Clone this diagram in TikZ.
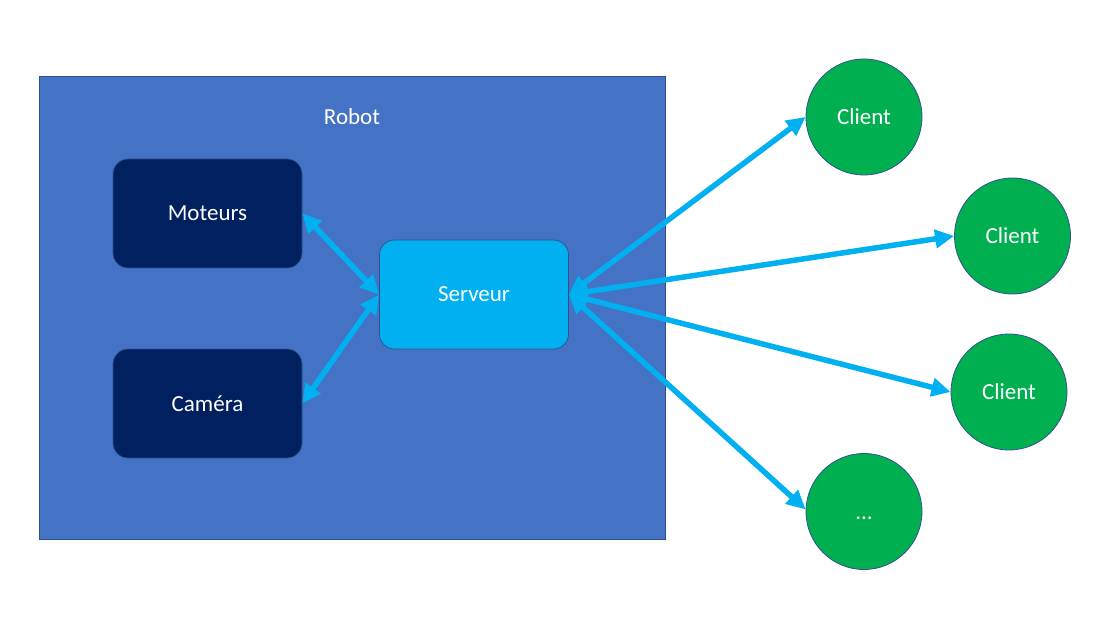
\documentclass[tikz,border=0pt]{standalone}
\usepackage{fontspec}
\setmainfont{Carlito}
\usetikzlibrary{arrows.meta}
\definecolor{robotblue}{HTML}{4472C4}
\definecolor{robotedge}{HTML}{2F528F}
\definecolor{navy}{HTML}{002060}
\definecolor{sky}{HTML}{00B0F0}
\definecolor{cgreen}{HTML}{00B050}
\tikzset{
  txt/.style={text=white, font=\fontsize{23}{26}\selectfont},
  module/.style={txt, draw=robotedge, line width=0.7pt, rounded corners=15pt, minimum width=189pt, minimum height=109pt, inner sep=0pt},
  client/.style={txt, circle, fill=cgreen, draw=robotedge, line width=0.8pt, minimum size=116pt, inner sep=0pt},
  link/.style={draw=sky, line width=5.5pt, {Triangle[length=19pt,width=18pt]}-{Triangle[length=19pt,width=18pt]}}
}
\begin{document}
\begin{tikzpicture}[x=1pt,y=-1pt]
\useasboundingbox[fill=white] (0,0) rectangle (1100,636);
\node[fill=robotblue, draw=robotedge, line width=0.8pt, minimum width=626pt, minimum height=463pt, inner sep=0pt, anchor=north west] (robot) at (39,76) {};
\node[txt] (robotlbl) at (352,117) {Robot};
\node[module, fill=navy] (mot) at (207.5,213.5) {Moteurs};
\node[module, fill=navy] (cam) at (207.5,403.5) {Caméra};
\node[module, fill=sky] (srv) at (474,294.5) {Serveur};
\node[client] (c1) at (864,117) {Client};
\node[client] (c2) at (1012.5,236) {Client};
\node[client] (c3) at (1009,392) {Client};
\node[client] (c4) at (864,511.5) {\vphantom{Client}...};
\draw[link] (mot.east) -- (srv.west);
\draw[link] (cam.east) -- (srv.west);
\draw[link] (srv.east) -- (c1.west);
\draw[link] (srv.east) -- (c2.west);
\draw[link] (srv.east) -- (c3.west);
\draw[link] (srv.east) -- (c4.178);
\end{tikzpicture}
\end{document}
